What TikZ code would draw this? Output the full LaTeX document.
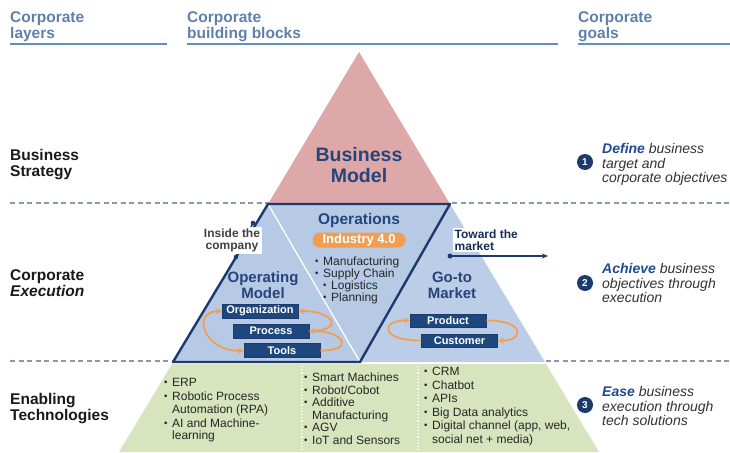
\documentclass[tikz,border=0pt]{standalone}
\usepackage{fontspec}
\usepackage{graphicx}
\setmainfont{Liberation Sans}
\usetikzlibrary{arrows.meta}
\definecolor{hdr}{RGB}{95,128,172}
\definecolor{hdrline}{RGB}{105,140,192}
\definecolor{pinkf}{RGB}{223,168,168}
\definecolor{bluef}{RGB}{182,202,229}
\definecolor{bluef2}{RGB}{188,206,231}
\definecolor{navy}{RGB}{28,58,108}
\definecolor{boxb}{RGB}{30,72,125}
\definecolor{titleb}{RGB}{38,68,122}
\definecolor{orng}{RGB}{241,158,82}
\definecolor{greenf}{RGB}{215,228,190}
\definecolor{dashg}{RGB}{140,152,170}
\definecolor{goalb}{RGB}{32,75,145}
\definecolor{txtg}{RGB}{50,50,55}
\newcommand{\bul}{\makebox[8pt][l]{\raisebox{0.15ex}{\scalebox{0.8}{•}}}}
\newcommand{\bulsp}{\hspace*{8pt}}
\begin{document}
\begin{tikzpicture}[x=1pt,y=-1pt,
  hdrtxt/.style={font=\fontsize{15.5}{16}\selectfont\bfseries, text=hdr, align=left, inner sep=0, anchor=north west},
  laytxt/.style={font=\fontsize{15.5}{16.5}\selectfont\bfseries, text=black!90, align=left, inner sep=0, anchor=north west},
  goaltxt/.style={font=\fontsize{14}{14.8}\selectfont\itshape, text=txtg, align=left, inner sep=0, anchor=north west},
  numc/.style={circle, fill=navy, text=white, font=\fontsize{10}{10}\selectfont\bfseries, minimum size=16pt, inner sep=0},
  ttl/.style={font=\fontsize{15}{16}\selectfont\bfseries, text=titleb, align=center, inner sep=0},
  dbox/.style={fill=boxb, draw=navy, line width=0.6pt, text=white, font=\fontsize{11}{11}\selectfont\bfseries, minimum width=76pt, minimum height=14pt, inner sep=0},
  oarr/.style={draw=orng, line width=1.8pt, -{Stealth[length=6pt,width=6pt]}},
  oarr2/.style={draw=orng, line width=1.8pt, {Stealth[length=6pt,width=6pt]}-{Stealth[length=6pt,width=6pt]}},
  bultxt/.style={font=\fontsize{12}{12}\selectfont, text=black!85, align=left, inner sep=0, anchor=north west},
  lbl/.style={fill=white, font=\fontsize{12}{12}\selectfont\bfseries, text=black!75, inner sep=1.5pt},
  dashln/.style={draw=dashg, line width=1.2pt, dash pattern=on 5pt off 3.5pt}
]
\useasboundingbox (0,0) rectangle (730,452);
\fill[white] (0,0) rectangle (730,452);

% headers
\node[hdrtxt] (hL) at (10,11) {Corporate\\layers};
\node[hdrtxt] (hM) at (187,11) {Corporate\\building blocks};
\node[hdrtxt] (hR) at (578,11) {Corporate\\goals};
\draw[hdrline, line width=2pt] (10,44) -- (167,44);
\draw[hdrline, line width=2pt] (187,44) -- (558,44);
\draw[hdrline, line width=2pt] (578,44) -- (730,44);

% dashed separators
\draw[dashln] (10,203) -- (730,203);
\draw[dashln] (10,361) -- (730,361);

% pyramid
\fill[pinkf] (359,52) -- (268,204) -- (450,204) -- cycle;
\fill[bluef2] (450,204) -- (545,362) -- (360,362) -- cycle;
\fill[bluef] (268,204) -- (450,204) -- (360,362) -- (173,362) -- cycle;
\draw[white, line width=1.3pt] (268,204) -- (360,362);
\draw[navy, line width=2.4pt, line join=round] (268,204) -- (450,204) -- (360,362) -- (173,362) -- cycle;
\fill[greenf] (172,364) -- (546,364) -- (599,452) -- (119,452) -- cycle;
\draw[white, line width=1.2pt, dotted] (302,366) -- (302,452);
\draw[white, line width=1.2pt, dotted] (418,366) -- (418,452);

% left labels
\node[laytxt] (l1) at (10,149) {Business\\Strategy};
\node[laytxt] (l2) at (10,269) {Corporate\\\textit{Execution}};
\node[laytxt] (l3) at (10,393) {Enabling\\Technologies};

% goals
\node[numc] (n1) at (585,162) {1};
\node[numc] (n2) at (585,283) {2};
\node[numc] (n3) at (585,405) {3};
\node[goaltxt] (g1) at (602,143) {\textbf{\textcolor{goalb}{Define}} business\\target and\\corporate objectives};
\node[goaltxt] (g2) at (602,263) {\textbf{\textcolor{goalb}{Achieve}} business\\objectives through\\execution};
\node[goaltxt] (g3) at (602,386) {\textbf{\textcolor{goalb}{Ease}} business\\execution through\\tech solutions};

% business model
\node[ttl, font=\fontsize{19.5}{21}\selectfont\bfseries] (bm) at (359,165) {Business\\Model};

% operations
\node[ttl, font=\fontsize{15.5}{16}\selectfont\bfseries] (ops) at (359,220) {Operations};
\node[fill=orng, rounded corners=7pt, minimum width=93pt, minimum height=15pt, inner sep=0, text=white, font=\fontsize{13}{13}\selectfont\bfseries] (ind) at (359,240) {Industry 4.0};
\node[bultxt] (opsl) at (315,257) {\bul Manufacturing\\\bul Supply Chain\\\bulsp\bul Logistics\\\bulsp\bul Planning};

% operating model
\node[ttl] (om) at (263,285.5) {Operating\\Model};
\node[dbox] (org) at (260,311) {Organization};
\node[dbox] (proc) at (271,331) {Process};
\node[dbox] (tools) at (282,350.5) {Tools};
\draw[oarr2] (tools.west) .. controls (205,352) and (190,312) .. (org.west);
\draw[oarr] (proc.east) .. controls (345,331) and (335,311) .. (org.east);
\draw[oarr] (tools.east) .. controls (355,351) and (345,331) .. (proc.east);

% go-to market
\node[ttl] (gm) at (452,285) {Go-to\\Market};
\node[dbox, minimum height=13pt] (prod) at (448,320.5) {Product};
\node[dbox, minimum height=13pt] (cust) at (459.5,340.5) {Customer};
\draw[oarr] (cust.west) .. controls (380,341) and (380,320) .. (prod.west);
\draw[oarr] (prod.east) .. controls (525,320) and (525,341) .. (cust.east);

% inside the company
\coordinate (ic1) at (236,257);
\coordinate (ic2) at (253,223);
\draw[navy, line width=1.4pt] (ic1) -- (ic2);
\fill[navy] (ic1) circle (2.3pt);
\fill[navy] (ic2) circle (2.3pt);
\node[lbl, align=center] (inside) at (232,240.5) {Inside the\\company};

% toward the market
\coordinate (tm1) at (450,256);
\coordinate (tm2) at (548,256);
\draw[navy, line width=1.4pt, -{Stealth[length=6pt,width=5pt]}] (tm1) -- (tm2);
\fill[navy] (tm1) circle (2.5pt);
\node[lbl, align=left, anchor=north west, text=navy!80!black] (toward) at (453,228) {Toward the\\market};

% technologies
\node[bultxt, font=\fontsize{12}{12.3}\selectfont] (t1) at (164,378) {\bul ERP\\[2pt]\bul Robotic Process\\\bulsp Automation (RPA)\\[2pt]\bul AI and Machine-\\\bulsp learning};
\node[bultxt, font=\fontsize{12}{12.5}\selectfont] (t2) at (304,373) {\bul Smart Machines\\\bul Robot/Cobot\\\bul Additive\\\bulsp Manufacturing\\\bul AGV\\\bul IoT and Sensors};
\node[bultxt, font=\fontsize{12}{13.5}\selectfont] (t3) at (424,367) {\bul CRM\\\bul Chatbot\\\bul APIs\\\bul Big Data analytics\\\bul Digital channel (app, web,\\\bulsp social net + media)};
\end{tikzpicture}
\end{document}
